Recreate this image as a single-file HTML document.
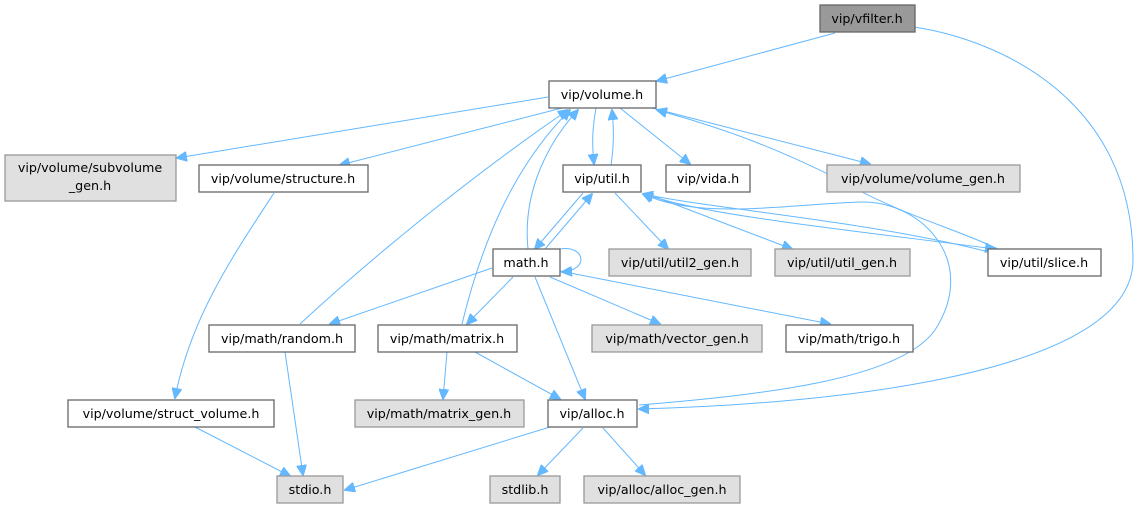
<!DOCTYPE html>
<html><head><meta charset="utf-8"><style>
html,body{margin:0;padding:0;background:#fff;}
svg{display:block;}
text{font-family:"DejaVu Sans","Liberation Sans",sans-serif;font-size:12.7px;fill:#000;text-anchor:middle;}
.w{fill:#fff;stroke:#666;stroke-width:1.3}
.g{fill:#e0e0e0;stroke:#999;stroke-width:1.3}
.e{fill:none;stroke:#63b8ff;stroke-width:1}
</style></head><body>
<svg width="1139" height="509" viewBox="0 0 1139 509">
<defs><marker id="a" markerWidth="11" markerHeight="10" refX="10" refY="5" orient="auto" markerUnits="userSpaceOnUse"><path d="M0,0 L11,5 L0,10 z" fill="#63b8ff" stroke="#63b8ff"/></marker></defs>
<g class="e" marker-end="url(#a)">
<path d="M835,33 L657,81"/>
<path d="M914,27 C1000,40 1133,100 1133,260 C1133,380 800,405 639,409"/>
<path d="M548,97 L177,158"/>
<path d="M562,108 L340,165"/>
<path d="M596,108 C592,130 592,145 594,164"/>
<path d="M611,165 C614,145 614,130 612,110"/>
<path d="M620,108 L690,164"/>
<path d="M652,108 L870,164"/>
<path d="M1000,250 C960,230 900,215 840,180 C780,150 730,130 657,110"/>
<path d="M583,193 L535,249"/>
<path d="M545,249 L592,194"/>
<path d="M615,193 L668,249"/>
<path d="M645,193 L792,249"/>
<path d="M645,194 C700,215 850,230 995,249"/>
<path d="M985,251 C860,220 720,210 643,194"/>
<path d="M639,405 C760,395 900,380 935,330 C980,260 920,200 860,202 C780,205 700,220 643,194"/>
<path d="M528,249 C522,190 550,140 578,110"/>
<path d="M300,324 C380,250 480,170 568,110"/>
<path d="M462,324 C480,250 510,170 570,110"/>
<path d="M560,249 C585,245 590,270 562,272"/>
<path d="M492,268 L330,324"/>
<path d="M513,277 L467,324"/>
<path d="M550,277 L660,324"/>
<path d="M560,271 L830,324"/>
<path d="M535,277 L585,399"/>
<path d="M447,352 L443,399"/>
<path d="M475,352 L560,399"/>
<path d="M274,193 C230,260 190,320 175,398"/>
<path d="M195,427 L290,476"/>
<path d="M285,352 L303,475"/>
<path d="M550,427 L345,490"/>
<path d="M583,428 L538,475"/>
<path d="M603,428 L645,475"/>
</g>
<rect x="820" y="5" width="95" height="27" fill="#999" stroke="#666" stroke-width="1.3"/><text x="867" y="23">vip/vfilter.h</text>
<rect class="w" x="549" y="81" width="107" height="27"/><text x="602" y="99">vip/volume.h</text>
<rect class="g" x="5" y="155" width="171" height="46"/><text x="90" y="172">vip/volume/subvolume</text><text x="90" y="190">_gen.h</text>
<rect class="w" x="199" y="165" width="169" height="27"/><text x="283" y="183">vip/volume/structure.h</text>
<rect class="w" x="563" y="165" width="78" height="27"/><text x="602" y="183">vip/util.h</text>
<rect class="w" x="666" y="165" width="84" height="27"/><text x="708" y="183">vip/vida.h</text>
<rect class="g" x="827" y="165" width="193" height="27"/><text x="923" y="183">vip/volume/volume_gen.h</text>
<rect class="w" x="493" y="249" width="67" height="27"/><text x="526" y="267">math.h</text>
<rect class="g" x="609" y="249" width="142" height="27"/><text x="680" y="267">vip/util/util2_gen.h</text>
<rect class="g" x="775" y="249" width="135" height="27"/><text x="842" y="267">vip/util/util_gen.h</text>
<rect class="w" x="988" y="249" width="113" height="27"/><text x="1044" y="267">vip/util/slice.h</text>
<rect class="w" x="209" y="325" width="146" height="27"/><text x="282" y="343">vip/math/random.h</text>
<rect class="w" x="378" y="325" width="139" height="27"/><text x="447" y="343">vip/math/matrix.h</text>
<rect class="g" x="592" y="325" width="170" height="27"/><text x="677" y="343">vip/math/vector_gen.h</text>
<rect class="w" x="786" y="325" width="127" height="27"/><text x="849" y="343">vip/math/trigo.h</text>
<rect class="w" x="68" y="400" width="206" height="27"/><text x="171" y="418">vip/volume/struct_volume.h</text>
<rect class="g" x="355" y="400" width="169" height="27"/><text x="439" y="418">vip/math/matrix_gen.h</text>
<rect class="w" x="548" y="400" width="89" height="27"/><text x="592" y="418">vip/alloc.h</text>
<rect class="g" x="277" y="476" width="66" height="27"/><text x="310" y="494">stdio.h</text>
<rect class="g" x="490" y="476" width="70" height="27"/><text x="525" y="494">stdlib.h</text>
<rect class="g" x="584" y="476" width="156" height="27"/><text x="662" y="494">vip/alloc/alloc_gen.h</text>
</svg>
</body></html>
